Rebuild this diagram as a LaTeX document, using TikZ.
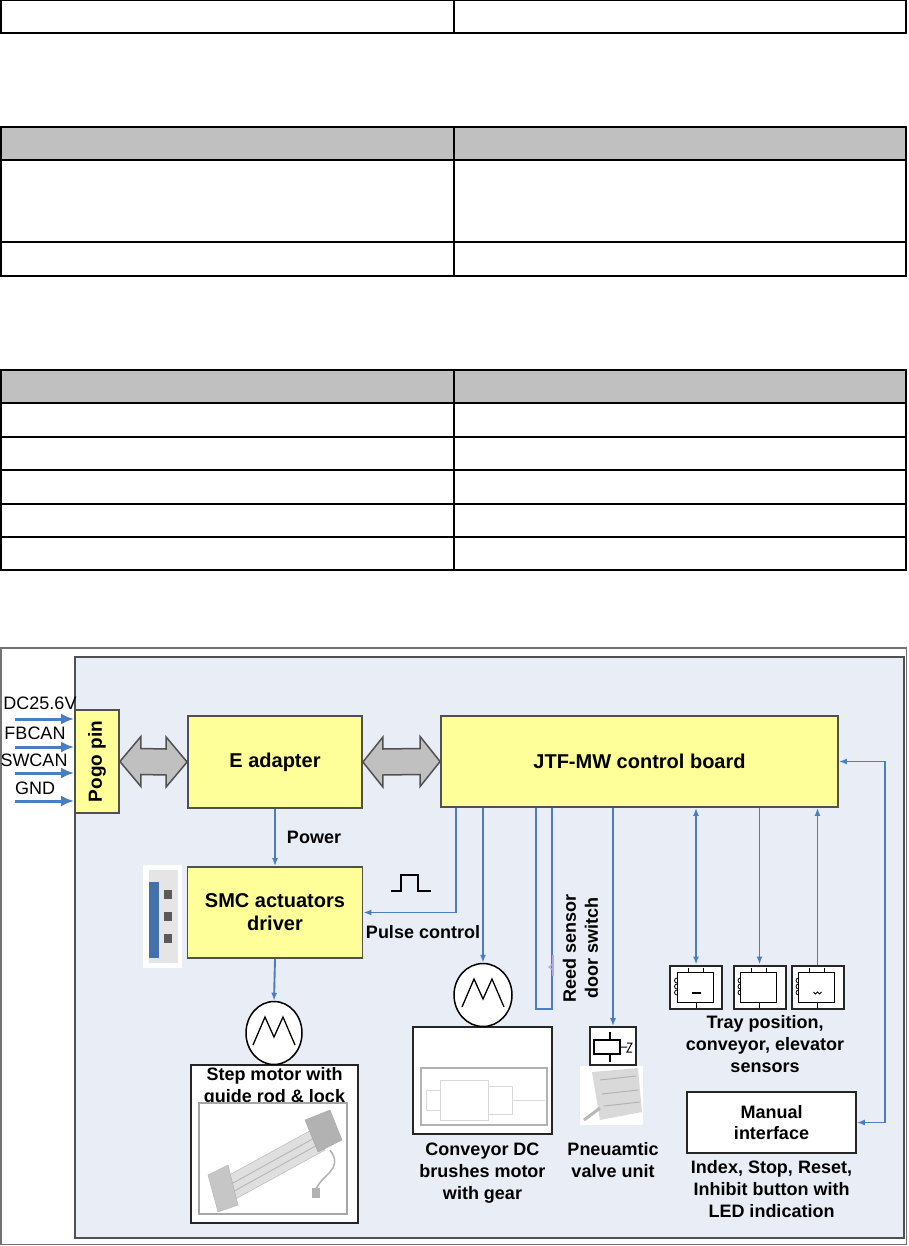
\documentclass[tikz,border=0pt]{standalone}
\usepackage{fontspec}
\setmainfont{Liberation Sans}
\usepackage{tikz}
\usetikzlibrary{arrows.meta, positioning, shapes, calc}
\definecolor{boxyellow}{RGB}{255,255,153}
\definecolor{panelblue}{RGB}{233,238,246}
\definecolor{sigblue}{RGB}{74,126,193}
\definecolor{hdrgray}{RGB}{192,192,192}
\definecolor{framegray}{RGB}{80,80,80}
\definecolor{reedlilac}{RGB}{170,170,235}

\begin{document}
\begin{tikzpicture}[x=1pt, y=-1pt,
	tbl/.style={line width=1.5pt, draw=black},
	ybox/.style={draw=framegray, line width=1.8pt, fill=boxyellow, inner sep=0pt, align=center, font=\bfseries\fontsize{20}{23}\selectfont},
	wbox/.style={draw=black!85, line width=1.6pt, fill=white, inner sep=0pt},
	lbl/.style={inner sep=0pt, align=center, font=\bfseries\fontsize{18}{22}\selectfont},
	inlbl/.style={inner sep=0pt, font=\fontsize{18}{20}\selectfont},
	sig/.style={draw=sigblue, line width=1.9pt},
	sigarr/.style={sig, -{Latex[length=8pt,width=6pt]}},
	sigboth/.style={sig, {Latex[length=8pt,width=6pt]}-{Latex[length=8pt,width=6pt]}},
	inarrow/.style={draw=sigblue, line width=3pt, -{Latex[length=13pt,width=11pt]}},
	fatarrow/.style={draw=framegray, line width=1.5pt, fill=hdrgray, line join=miter},
	motor/.style={ellipse, draw=black, line width=1.5pt, fill=white, minimum width=57pt, minimum height=63pt, inner sep=0pt},
	sensorbox/.style={wbox, line width=2pt, minimum width=52pt, minimum height=43pt}]
	\useasboundingbox (0,0) rectangle (908,1246);
	% empty tables on top
	\draw[tbl] (0.75,0.75) rectangle (906,33);
	\draw[tbl] (454,0.75) -- (454,33);
	\fill[hdrgray] (0.75,127) rectangle (906,160);
	\draw[tbl] (0.75,127) rectangle (906,276);
	\foreach \yy in {160,242} \draw[tbl] (0.75,\yy) -- (906,\yy);
	\draw[tbl] (454,127) -- (454,276);
	\fill[hdrgray] (0.75,370) rectangle (906,403);
	\draw[tbl] (0.75,370) rectangle (906,570);
	\foreach \yy in {403,437,470,504,537} \draw[tbl] (0.75,\yy) -- (906,\yy);
	\draw[tbl] (454,370) -- (454,570);
	% diagram frame
	\draw[draw=framegray!80, line width=1.5pt] (0.75,648) rectangle (906.5,1244.5);
	\draw[draw=framegray, line width=2pt, fill=panelblue] (75,657) rectangle (903.5,1238);
	% main boxes
	\node[ybox, minimum width=44pt, minimum height=103pt] (pogo) at (97,761.5) {\rotatebox{90}{\fontsize{19}{21}\selectfont Pogo pin}};
	\node[ybox, minimum width=174pt, minimum height=92pt] (eadp) at (275,762) {E adapter};
	\node[ybox, minimum width=397pt, minimum height=91pt] (jtf) at (639.5,761.5) {JTF-MW control board};
	\node[ybox, minimum width=175pt, minimum height=91pt] (smc) at (275,912.5) {SMC actuators\\driver};
	% inputs
	\foreach \yy/\ly/\lab/\nm/\lx in {719/703/DC25.6V/dc/40, 747/733/FBCAN/fb/35, 773/760/SWCAN/sw/34, 801/788/GND/gnd/35} {
		\node[inlbl] (\nm) at (\lx,\ly) {\lab};
		\coordinate (\nm-s) at (15,\yy);
		\draw[inarrow] (\nm-s) -- (\nm-s -| pogo.west);
	}
	% fat double arrows
	\draw[fatarrow] (pogo.east) -- ++(21,-25) -- ++(0,12) -- ($(eadp.west)+(-21,-13)$) -- ++(0,-12) -- (eadp.west) -- ++(-21,25) -- ++(0,-12) -- ($(pogo.east)+(21,13)$) -- ++(0,12) -- cycle;
	\draw[fatarrow] (eadp.east) -- ++(20,-25) -- ++(0,12) -- ($(jtf.west)+(-20,-13)$) -- ++(0,-12) -- (jtf.west) -- ++(-20,25) -- ++(0,-12) -- ($(eadp.east)+(20,13)$) -- ++(0,12) -- cycle;
	% power and pulse
	\draw[sigarr] (eadp.south) -- (smc.north);
	\node[lbl] (pwr) at (314,837) {Power};
	\draw[sigarr] ([xshift=16pt]jtf.south west) |- (smc.east);
	\draw[line width=1.3pt] (391,891) -- (401,891) -- (401,875) -- (418,875) -- (418,891) -- (431,891);
	\node[lbl] (pulse) at (423,932) {Pulse control};
	% driver photo
	\fill[white] (143,865) rectangle (182,968);
	\fill[gray!20] (149,870) rectangle (178,963);
	\fill[sigblue!90!black] (149,882) rectangle (159,958);
	\foreach \yy in {890,912,934} \fill[black!65] (164,\yy) rectangle (172,\yy+9);
	% step motor
	\node[wbox, minimum width=167pt, minimum height=158pt] (sbox) at (274.5,1144) {};
	\node[motor, minimum width=56pt] (smot) at (274,1033) {};
	\draw[sigarr] (smc.south) -- (smot.north);
	\node[lbl, below=3pt of sbox.north] (scap) {Step motor with\\guide rod \& lock};
	\draw[gray!70, line width=1.2pt, fill=white] (199,1103) rectangle (347,1214);
	\draw[gray!60, fill=gray!25] (220,1180) -- (315,1128) -- (325,1150) -- (230,1202) -- cycle;
	\draw[gray!55, line width=1pt] (224,1188) -- (318,1136) (227,1195) -- (321,1143);
	\draw[gray!60, fill=gray!45] (208,1175) -- (228,1165) -- (238,1205) -- (218,1212) -- cycle;
	\draw[gray!70, fill=gray!60] (305,1120) -- (330,1110) -- (342,1140) -- (318,1152) -- cycle;
	\draw[gray!60, line width=1.5pt] (330,1150) .. controls (345,1170) and (320,1175) .. (316,1190);
	\fill[gray!60] (312,1188) rectangle (320,1198);
	% conveyor motor
	\node[wbox, minimum width=139pt, minimum height=107pt] (cbox) at (482.5,1080.5) {};
	\node[motor, minimum width=58pt] (cmot) at (483,995) {};
	\draw[sigarr] (jtf.south -| cmot.north) -- (cmot.north);
	\draw[gray!60, line width=1.2pt] (421,1068) rectangle (547,1125);
	\draw[gray!30, line width=0.8pt] (440,1080) rectangle (488,1120) (488,1086) rectangle (512,1114) (426,1090) rectangle (440,1110) (512,1100) -- (545,1100);
	\node[lbl, below=8pt of cbox] (ccap) {Conveyor DC\\brushes motor\\with gear};
	\foreach \m in {smot, cmot}
		\draw[line width=1.3pt] ($(\m)+(-21,12)$) -- ++(12,-28) -- ++(9,20) -- ++(9,-20) -- ++(12,28);
	% reed sensor loop
	\draw[sig] ([xshift=96pt]jtf.south west) -- ++(0,201) -| ([xshift=112pt]jtf.south west);
	\draw[reedlilac, line width=2pt] (553,955) -- (553,976);
	\draw[reedlilac, line width=1.2pt] (553,964) -- (549,967) -- (553,970);
	\node[lbl, rotate=90] (reed) at (580.5,948) {Reed sensor\\door switch};
	% pneumatic valve
	\node[wbox, minimum width=46pt, minimum height=38pt] (sol) at (613,1046) {};
	\draw[sigarr] (jtf.south -| sol.north) -- (sol.north);
	\draw[line width=1.1pt] ($(sol)+(-19,-6)$) rectangle ($(sol)+(7,8)$);
	\draw[line width=1.1pt] ($(sol)+(-3,-14)$) -- ++(0,8) ($(sol)+(-3,8)$) -- ++(0,8);
	\draw[line width=1pt] ($(sol)+(7,1)$) -- ++(7,0) ($(sol)+(14,-3)$) -- ++(5,0) -- ++(-5,9) -- ++(5,0);
	\fill[white] (580,1066) rectangle (643,1125);
	\fill[gray!30] (592,1072) -- (638,1068) -- (642,1112) -- (600,1120) -- cycle;
	\draw[gray!60, line width=1pt] (600,1080) -- (636,1076) (602,1094) -- (638,1090) (604,1106) -- (640,1102);
	\draw[gray!55, line width=3pt] (600,1108) -- (584,1120);
	\node[lbl, anchor=north] (vcap) at (613,1142) {Pneuamtic\\valve unit};
	% sensors
	\foreach \nm/\xx in {s1/696, s2/759.5, s3/817.5} {
		\node[sensorbox] (\nm) at (\xx,987) {};
		\draw[line width=1pt] ($(\nm)+(-19,-15)$) rectangle ($(\nm)+(17,15)$);
		\draw[line width=1pt] ($(\nm)+(-8,-15)$) -- ++(0,-4) ($(\nm)+(7,-15)$) -- ++(0,-4) ($(\nm)+(0,15)$) -- ++(0,6);
		\foreach \dy in {-9,-3,3} \draw[line width=0.8pt] ($(\nm)+(-19,\dy)$) arc[start angle=90, end angle=270, radius=2.5pt];
	}
	\draw[line width=1.2pt] ($(s1)+(-4,6)$) -- ++(9,0);
	\draw[line width=1pt] ($(s3)+(-4,5)$) -- ++(2,2) -- ++(2,-2) -- ++(2,2) -- ++(2,-2);
	\draw[sigboth] (jtf.south -| s1.north) -- (s1.north);
	\draw[sigarr] (jtf.south -| s2.north) -- (s2.north);
	\draw[sigarr] (s3.north) -- (jtf.south -| s3.north);
	\node[lbl, anchor=north] (tcap) at (765,1015) {Tray position,\\conveyor, elevator\\sensors};
	% manual interface
	\node[wbox, minimum width=169pt, minimum height=61pt, align=center, font=\bfseries\fontsize{18}{21}\selectfont] (manual) at (771.5,1122.5) {Manual\\interface};
	\draw[sigboth] (manual.east) -- ++(28,0) |- (jtf.east);
	\node[lbl, below=6pt of manual] (mcap) {Index, Stop, Reset,\\Inhibit button with\\LED indication};
\end{tikzpicture}
\end{document}
